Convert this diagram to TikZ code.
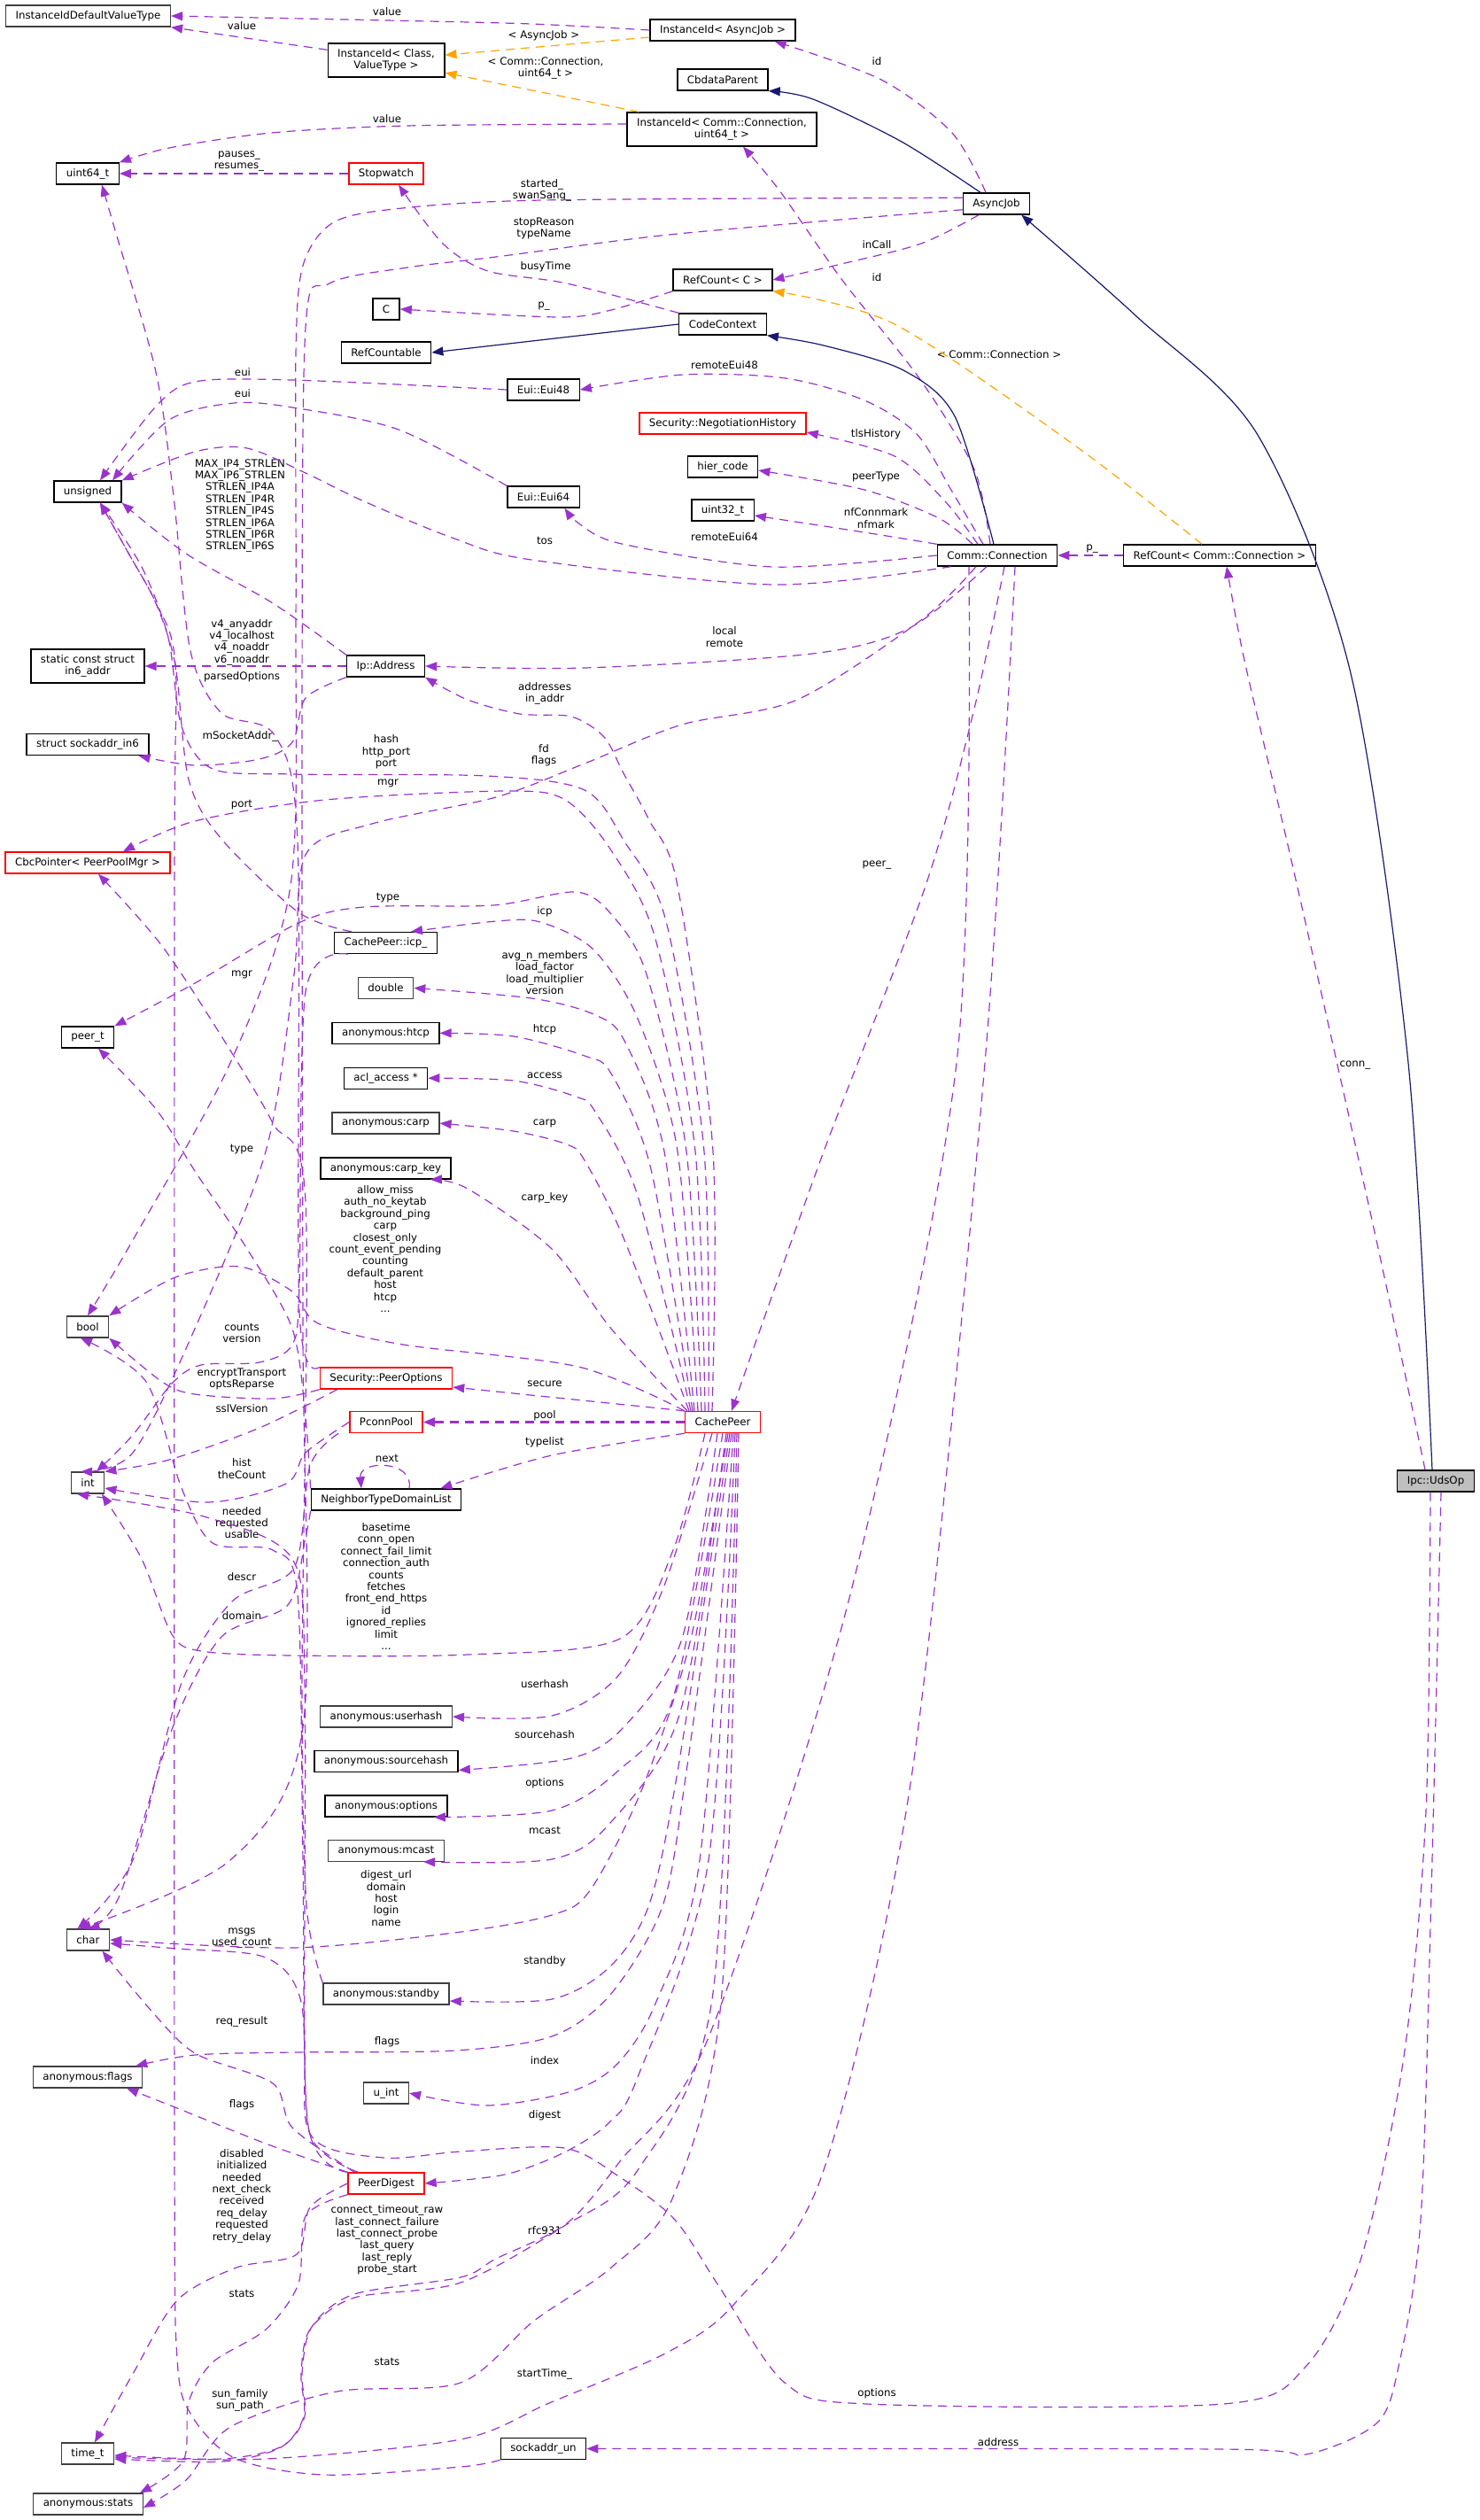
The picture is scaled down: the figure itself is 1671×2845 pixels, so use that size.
\documentclass[tikz,border=0pt]{standalone}
\usepackage{fontspec}
\setmainfont{DejaVu Sans}
\usetikzlibrary{arrows.meta, positioning}
\definecolor{purp}{RGB}{154,50,205}
\definecolor{orng}{RGB}{255,165,0}
\definecolor{navy}{RGB}{25,25,112}
\definecolor{grey40}{RGB}{64,64,64}
\definecolor{grey75}{RGB}{191,191,191}

\begin{document}
\begin{tikzpicture}[x=0.5pt, y=-0.5pt,
    every node/.style={align=center, font=\fontsize{5.9}{6.7}\selectfont},
    cls/.style={draw=black, fill=white, line width=0.7pt, inner xsep=5.5pt,
                inner ysep=1pt, minimum height=12pt},
    gry/.style={cls, draw=grey40},
    bad/.style={cls, draw=red},
    two/.style={minimum height=19pt},
    lbl/.style={inner sep=0pt},
    mem/.style={draw=purp, line width=0.6pt, dash pattern=on 5pt off 3.5pt,
                -{Triangle[length=6.5pt, width=5pt]}},
    tmpl/.style={mem, draw=orng},
    inh/.style={draw=navy, line width=0.6pt, -{Triangle[length=6.5pt, width=5pt]}}
  ]
    \path[use as bounding box, fill=white] (0,0) rectangle (1671,2845);

    \node[gry] (iidvt) at (99.5,18) {InstanceIdDefaultValueType};
    \node[cls] (iiasync) at (816,34) {InstanceId< AsyncJob >};
    \node[cls, two] (iiclass) at (436,68) {InstanceId< Class,\\ ValueType >};
    \node[cls] (cbdata) at (816,90) {CbdataParent};
    \node[cls, two] (iicomm) at (815,146) {InstanceId< Comm::Connection,\\ uint64\_t >};
    \node[cls] (uint64) at (99,196) {uint64\_t};
    \node[bad] (stopw) at (436,196) {Stopwatch};
    \node[cls] (ajob) at (1125,230) {AsyncJob};
    \node[cls] (rcc) at (816,316) {RefCount< C >};
    \node[cls] (cc) at (436,349) {C};
    \node[cls] (cctx) at (816,366) {CodeContext};
    \node[cls] (rcable) at (436,398) {RefCountable};
    \node[cls] (eui48) at (613.5,440) {Eui::Eui48};
    \node[bad] (neg) at (816,478) {Security::NegotiationHistory};
    \node[cls] (hier) at (816,527) {hier\_code};
    \node[cls] (unsgn) at (99,555) {unsigned};
    \node[cls] (eui64) at (613.5,561) {Eui::Eui64};
    \node[cls] (u32) at (816,576) {uint32\_t};
    \node[cls] (conn) at (1126,627) {Comm::Connection};
    \node[cls] (rconn) at (1377,627) {RefCount< Comm::Connection >};
    \node[cls, two] (in6) at (99,752) {static const struct\\ in6\_addr};
    \node[cls] (ipaddr) at (435.5,752) {Ip::Address};
    \node[cls] (sin6) at (99,840.5) {struct sockaddr\_in6};
    \node[bad] (cbcp) at (99,974) {CbcPointer< PeerPoolMgr >};
    \node[cls] (icp) at (435.5,1064.5) {CachePeer::icp\_};
    \node[gry, below=12.75pt of icp] (dbl) {double};
    \node[cls, below=12.75pt of dbl] (htcp) {anonymous:htcp};
    \node[cls, below=12.75pt of htcp] (acl) {acl\_access *};
    \node[gry, below=12.75pt of acl] (carp) {anonymous:carp};
    \node[cls, below=12.75pt of carp] (ckey) {anonymous:carp\_key};
    \node[cls] (peert) at (99,1171) {peer\_t};
    \node[gry] (booln) at (99,1498) {bool};
    \node[bad] (peeropts) at (436,1556) {Security::PeerOptions};
    \node[bad] (pconn) at (436,1605.5) {PconnPool};
    \node[bad] (cpeer) at (816,1605.5) {CachePeer};
    \node[gry] (intn) at (99,1674) {int};
    \node[cls] (ntdl) at (436,1693) {NeighborTypeDomainList};
    \node[cls, fill=grey75] (udsop) at (1621,1672) {Ipc::UdsOp};
    \node[gry] (uhash) at (436,1938) {anonymous:userhash};
    \node[cls, below=12.5pt of uhash] (shash) {anonymous:sourcehash};
    \node[cls, below=12.5pt of shash] (opts) {anonymous:options};
    \node[gry, below=12.5pt of opts] (mcast) {anonymous:mcast};
    \node[gry] (charn) at (99.5,2190) {char};
    \node[gry] (stby) at (436,2251) {anonymous:standby};
    \node[gry] (flagsn) at (99,2345) {anonymous:flags};
    \node[gry] (uint) at (436,2363) {u\_int};
    \node[bad] (pdig) at (436,2465) {PeerDigest};
    \node[gry] (timet) at (99,2770) {time\_t};
    \node[cls] (sockun) at (613.5,2764.5) {sockaddr\_un};
    \node[gry] (stats) at (99.5,2827) {anonymous:stats};

    \node[lbl] (lv1) at (437,13) {value};
    \node[lbl] (lv2) at (273,29) {value};
    \node[lbl] (lasync) at (614,40) {< AsyncJob >};
    \node[lbl] (lcommu) at (616,77) {< Comm::Connection,\\ uint64\_t >};
    \node[lbl] (lid1) at (990,69) {id};
    \node[lbl] (lv3) at (437,134) {value};
    \node[lbl] (lpause) at (270,182) {pauses\_\\ resumes\_};
    \node[lbl] (lstart) at (612,215) {started\_\\ swanSang\_};
    \node[lbl] (lstop) at (614,258) {stopReason\\ typeName};
    \node[lbl] (lbusy) at (616,301) {busyTime};
    \node[lbl] (lincall) at (990,276) {inCall};
    \node[lbl] (lid2) at (990,313) {id};
    \node[lbl] (lp1) at (614,346) {p\_};
    \node[lbl] (lcc) at (1128,400) {< Comm::Connection >};
    \node[lbl] (lre48) at (818,412) {remoteEui48};
    \node[lbl] (leui1) at (274,420) {eui};
    \node[lbl] (leui2) at (274,444) {eui};
    \node[lbl] (ltls) at (989,490) {tlsHistory};
    \node[lbl] (lptype) at (989,538) {peerType};
    \node[lbl] (lnf) at (989,585) {nfConnmark\\ nfmark};
    \node[lbl] (lre64) at (818,606) {remoteEui64};
    \node[lbl] (ltos) at (615,610) {tos};
    \node[lbl] (lmax) at (271,571) {MAX\_IP4\_STRLEN\\ MAX\_IP6\_STRLEN\\ STRLEN\_IP4A\\ STRLEN\_IP4R\\ STRLEN\_IP4S\\ STRLEN\_IP6A\\ STRLEN\_IP6R\\ STRLEN\_IP6S};
    \node[lbl] (lp2) at (1233,620) {p\_};
    \node[lbl] (llocal) at (818,719) {local\\ remote};
    \node[lbl] (lv4) at (273,725) {v4\_anyaddr\\ v4\_localhost\\ v4\_noaddr\\ v6\_noaddr};
    \node[lbl] (lparsed) at (273,764) {parsedOptions};
    \node[lbl] (laddr) at (615,783) {addresses\\ in\_addr};
    \node[lbl] (lmsock) at (271,831) {mSocketAddr\_};
    \node[lbl] (lhash) at (436,849) {hash\\ http\_port\\ port};
    \node[lbl] (lfd) at (614,853) {fd\\ flags};
    \node[lbl] (lmgr1) at (438,884) {mgr};
    \node[lbl] (lport) at (273,909) {port};
    \node[lbl] (lpeer) at (990,977) {peer\_};
    \node[lbl] (ltype1) at (438,1014) {type};
    \node[lbl] (licp) at (615,1029) {icp};
    \node[lbl] (lavg) at (615,1098) {avg\_n\_members\\ load\_factor\\ load\_multiplier\\ version};
    \node[lbl] (lmgr2) at (273,1100) {mgr};
    \node[lbl] (lhtcp) at (615,1162) {htcp};
    \node[lbl] (lacc) at (615,1214) {access};
    \node[lbl] (lcarp) at (615,1268) {carp};
    \node[lbl] (ltype2) at (273,1298) {type};
    \node[lbl] (lckey) at (615,1352) {carp\_key};
    \node[lbl] (lallow) at (435,1410) {allow\_miss\\ auth\_no\_keytab\\ background\_ping\\ carp\\ closest\_only\\ count\_event\_pending\\ counting\\ default\_parent\\ host\\ htcp\\ ...};
    \node[lbl] (lcounts) at (273,1505) {counts\\ version};
    \node[lbl] (lenc) at (273,1557) {encryptTransport\\ optsReparse};
    \node[lbl] (lsecure) at (615,1562) {secure};
    \node[lbl] (lssl) at (273,1590) {sslVersion};
    \node[lbl] (lpool) at (615,1598) {pool};
    \node[lbl] (ltypel) at (615,1628) {typelist};
    \node[lbl] (lnext) at (437,1646) {next};
    \node[lbl] (lhist) at (273,1658) {hist\\ theCount};
    \node[lbl] (lneed) at (273,1719) {needed\\ requested\\ usable};
    \node[lbl] (ldescr) at (273,1780) {descr};
    \node[lbl] (lbase) at (436,1791) {basetime\\ conn\_open\\ connect\_fail\_limit\\ connection\_auth\\ counts\\ fetches\\ front\_end\_https\\ id\\ ignored\_replies\\ limit\\ ...};
    \node[lbl] (ldomain) at (273,1824) {domain};
    \node[lbl] (luser) at (615,1901) {userhash};
    \node[lbl] (lsrc) at (615,1958) {sourcehash};
    \node[lbl] (lopt1) at (615,2013) {options};
    \node[lbl] (lmcast) at (615,2066) {mcast};
    \node[lbl] (ldig) at (436,2143) {digest\_url\\ domain\\ host\\ login\\ name};
    \node[lbl] (lmsgs) at (273,2188) {msgs\\ used\_count};
    \node[lbl] (lstandby) at (615,2214) {standby};
    \node[lbl] (lreq) at (273,2282) {req\_result};
    \node[lbl] (lflags1) at (437,2305) {flags};
    \node[lbl] (lindex) at (615,2326) {index};
    \node[lbl] (lflags2) at (273,2376) {flags};
    \node[lbl] (ldigest) at (615,2388) {digest};
    \node[lbl] (ldis) at (273,2479) {disabled\\ initialized\\ needed\\ next\_check\\ received\\ req\_delay\\ requested\\ retry\_delay};
    \node[lbl] (lctr) at (437,2529) {connect\_timeout\_raw\\ last\_connect\_failure\\ last\_connect\_probe\\ last\_query\\ last\_reply\\ probe\_start};
    \node[lbl] (lrfc) at (615,2518) {rfc931};
    \node[lbl] (lstats1) at (273,2589) {stats};
    \node[lbl] (lstats2) at (437,2666) {stats};
    \node[lbl] (lstartt) at (615,2680) {startTime\_};
    \node[lbl] (loptions) at (990,2702) {options};
    \node[lbl] (lsun) at (271,2710) {sun\_family\\ sun\_path};
    \node[lbl] (laddress) at (1127,2757) {address};
    \node[lbl] (lconnu) at (1530,1203) {conn\_};

    \draw[mem] plot[smooth] coordinates {(iiasync.west) (600,27) (437,23) (iidvt.east)};
    \draw[mem] (iiclass.170) -- (iidvt.south east);
    \draw[tmpl] ([yshift=-4pt]iiasync.west) -- (iiclass.5);
    \draw[tmpl] ([xshift=7pt]iicomm.north west) -- (iiclass.-12);
    \draw[mem] plot[smooth] coordinates {([xshift=-6pt]ajob.north) (1075,150) (995,90) ([xshift=-12pt]iiasync.south east)};
    \draw[inh] plot[smooth] coordinates {([xshift=-9pt]ajob.north) (1018,160) (918,112) (cbdata.south east)};
    \draw[mem] plot[smooth] coordinates {([yshift=3pt]iicomm.west) (459,142) (306,150) (191,167) (uint64.north east)};
    \draw[mem] (stopw.west) -- (uint64.east);
    \draw[mem] plot[smooth] coordinates {(ajob.170) (612,226) (445,236) (375,252) (342,300) (334,400) (334,700) (328,1000) (260,1200) (150,1400) (booln.north)};
    \draw[mem] plot[smooth] coordinates {(ajob.190) (765,264) (560,290) (460,302) (372,320) (345,370) (341,800) (342,1500) (342,1950) (260,2100) ([xshift=-5pt]charn.north)};
    \draw[mem] plot[smooth] coordinates {(cctx.north west) (640,320) (551,306) (500,275) ([xshift=7pt]stopw.south)};
    \draw[mem] plot[smooth] coordinates {([xshift=-10pt]ajob.south) (1040,275) (950,298) (rcc.east)};
    \draw[mem] plot[smooth] coordinates {([xshift=-4pt]conn.north) (1100,530) (1040,430) (950,315) (880,215) ([xshift=12pt]iicomm.south)};
    \draw[mem] plot[smooth] coordinates {(rcc.south west) (690,350) (630,358) (cc.east)};
    \draw[inh] (cctx.west) -- (rcable.east);
    \draw[inh] plot[smooth] coordinates {([xshift=-2pt]conn.north) (1078,470) (1020,418) (930,390) (cctx.south east)};
    \draw[tmpl] plot[smooth] coordinates {([xshift=-10pt]rconn.north) (1215,504) (1010,366) (rcc.south east)};
    \draw[inh] plot[smooth] coordinates {([xshift=-2pt]udsop.north) (1590,1200) (1525,760) (1420,491) (1283,357) ([xshift=-5pt]ajob.south east)};
    \draw[mem] plot[smooth] coordinates {([xshift=-8pt]conn.north) (1075,555) (1035,490) (976,452) (887,427) (771,423) (eui48.east)};
    \draw[mem] plot[smooth] coordinates {([xshift=-11pt]conn.north) (1068,567) (1010,515) ([yshift=-5pt]neg.east)};
    \draw[mem] plot[smooth] coordinates {([xshift=-14pt]conn.north) (1060,585) (976,553) ([yshift=-2pt]hier.east)};
    \draw[mem] plot[smooth] coordinates {(conn.north west) (976,601) ([yshift=-3pt]u32.east)};
    \draw[mem] plot[smooth] coordinates {(conn.west) (873,640) (702,614) (655,592) ([xshift=12pt]eui64.south)};
    \draw[mem] plot[smooth] coordinates {([xshift=8pt]conn.south west) (873,660) (600,632) (513,608) (411,566) (345,534) (279,506) (220,510) (unsgn.north east)};
    \draw[mem] (rconn.west) -- (conn.east);
    \draw[mem] plot[smooth] coordinates {([xshift=-6pt]conn.south) (1027,709) (917,738) (660,754) (ipaddr.east)};
    \draw[mem] (ipaddr.west) -- (in6.east);
    \draw[mem] plot[smooth] coordinates {(eui48.west) (330,429) (220,431) (175,460) ([xshift=7pt]unsgn.north)};
    \draw[mem] plot[smooth] coordinates {(eui64.north west) (450,485) (330,460) (264,455) (191,474) ([xshift=14pt]unsgn.north)};
    \draw[mem] plot[smooth] coordinates {(ipaddr.north west) (308,681) (210,625) (unsgn.south east)};
    \draw[mem] plot[smooth] coordinates {(ipaddr.south west) (345,788) (330,838) (293,857) (220,864) ([xshift=-6pt]sin6.south east)};
    \draw[mem] plot[smooth] coordinates {([xshift=10pt]icp.north west) (337,1030) (249,946) (213,880) (198,751) (176,681) (147,628) ([xshift=7pt]unsgn.south)};
    \draw[mem] plot[smooth] coordinates {(peeropts.north west) (338,1480) (336,950) (310,830) (250,805) (215,735) (196,560) (176,420) (130,260) ([xshift=8pt]uint64.south)};
    \draw[mem] plot[smooth] coordinates {([xshift=-6pt]cpeer.north) (805,1300) (765,1000) (733,926) (704,873) (682,832) (645,809) (587,806) (528,790) (ipaddr.south east)};
    \draw[mem] plot[smooth] coordinates {([xshift=-8pt]cpeer.north) (795,1300) (752,1040) (705,950) (660,892) (550,876) (330,874) (240,868) (205,820) (190,720) (160,640) ([xshift=7pt]unsgn.south)};
    \draw[mem] plot[smooth] coordinates {([xshift=-12pt]conn.south) (1040,700) (900,790) (770,818) (660,862) (560,900) (420,930) (345,965) (332,1100) (300,1300) (220,1500) (150,1640) ([xshift=-4pt]intn.north)};
    \draw[mem] plot[smooth] coordinates {([xshift=-10pt]cpeer.north) (785,1300) (740,1060) (690,960) (638,903) (572,893) (367,903) (220,927) ([xshift=20pt]cbcp.north)};
    \draw[mem] plot[smooth] coordinates {([xshift=4pt]conn.south) (1100,800) (1045,1000) (930,1300) ([xshift=5pt]cpeer.north)};
    \draw[mem] plot[smooth] coordinates {([xshift=-12pt]cpeer.north) (775,1300) (730,1100) (690,1032) (650,1007) (557,1022) (411,1024) (337,1042) (220,1110) (peert.north east)};
    \draw[mem] plot[smooth] coordinates {([xshift=-14pt]cpeer.north) (765,1300) (720,1150) (670,1072) (610,1041) (560,1040) ([xshift=-15pt]icp.north east)};
    \draw[mem] plot[smooth] coordinates {([xshift=-16pt]cpeer.north) (750,1300) (705,1175) (670,1145) (600,1127) (dbl.east)};
    \draw[mem] plot[smooth] coordinates {([xshift=-17pt]cpeer.north) (735,1320) (690,1212) (660,1192) (580,1170) (htcp.east)};
    \draw[mem] plot[smooth] coordinates {([xshift=-18pt]cpeer.north) (720,1350) (672,1255) (650,1238) (580,1220) (acl.east)};
    \draw[mem] plot[smooth] coordinates {([xshift=-19pt]cpeer.north) (705,1400) (660,1310) (640,1292) (580,1277) (carp.east)};
    \draw[mem] plot[smooth] coordinates {([xshift=-20pt]cpeer.north) (690,1500) (623,1410) (528,1342) ([xshift=-12pt]ckey.south east)};
    \draw[mem] plot[smooth] coordinates {(cpeer.north west) (653,1543) (455,1518) (359,1494) (330,1458) (271,1430) (198,1442) (booln.north east)};
    \draw[mem] plot[smooth] coordinates {([xshift=8pt]icp.south west) (345,1120) (338,1450) (330,1518) (293,1538) (227,1541) (194,1562) (150,1620) ([xshift=5pt]intn.north)};
    \draw[mem] plot[smooth] coordinates {(peeropts.south west) (308,1579) (220,1574) (183,1560) (booln.south east)};
    \draw[mem] plot[smooth] coordinates {([xshift=10pt]peeropts.south west) (293,1612) (191,1648) (intn.north east)};
    \draw[mem] (cpeer.north west) -- ([yshift=-5pt]peeropts.east);
    \draw[mem, line width=1.1pt] (cpeer.west) -- (pconn.east);
    \draw[mem] plot[smooth] coordinates {(cpeer.south west) (623,1643) ([xshift=-12pt]ntdl.north east)};
    \draw[mem] ([xshift=13pt]ntdl.north) .. controls (468,1648) and (405,1648) .. ([xshift=-14pt]ntdl.north);
    \draw[mem] plot[smooth] coordinates {(pconn.west) (345,1640) (323,1675) (235,1696) ([yshift=-3pt]intn.east)};
    \draw[mem] plot[smooth] coordinates {(pdig.north west) (348,2400) (342,2100) (336,1800) (308,1750) (240,1742) (205,1680) (165,1560) ([xshift=-4pt]booln.south)};
    \draw[mem] plot[smooth] coordinates {([xshift=-6pt]pconn.south west) (350,1655) (332,1770) (262,1808) (205,1900) (150,2100) ([xshift=-6pt]charn.north)};
    \draw[mem] plot[smooth] coordinates {(ntdl.south west) (345,1735) (325,1812) (250,1848) (195,1950) (135,2140) (charn.north)};
    \draw[mem] plot[smooth] coordinates {([xshift=-10pt]cpeer.south) (760,1750) (700,1850) (528,1868) (330,1869) (227,1864) (194,1845) (160,1760) ([xshift=8pt]intn.south)};
    \draw[mem] plot[smooth] coordinates {([xshift=-6pt]cpeer.south) (750,1790) (697,1893) (623,1937) (uhash.east)};
    \draw[mem] plot[smooth] coordinates {([xshift=-3pt]cpeer.south) (770,1850) (704,1950) (645,1985) ([yshift=-5pt]shash.east)};
    \draw[mem] plot[smooth] coordinates {(cpeer.south) (760,1917) (697,2000) (623,2044) ([xshift=-8pt]opts.south east)};
    \draw[mem] plot[smooth] coordinates {([xshift=2pt]cpeer.south) (768,1933) (689,2058) (623,2099) ([xshift=-12pt]mcast.south east)};
    \draw[mem] plot[smooth] coordinates {([xshift=3pt]cpeer.south) (780,1850) (726,2017) (667,2133) (623,2162) (513,2182) (330,2199) (charn.east)};
    \draw[mem] plot[smooth] coordinates {([xshift=6pt]pdig.north west) (350,2410) (340,2260) (300,2210) (200,2200) ([yshift=-2pt]charn.east)};
    \draw[mem] plot[smooth] coordinates {([xshift=4pt]cpeer.south) (765,2000) (733,2150) (689,2220) (623,2257) ([yshift=-4pt]stby.east)};
    \draw[mem] plot[smooth] coordinates {([xshift=5pt]cpeer.south) (775,2000) (748,2152) (689,2252) (623,2299) (513,2315) (330,2317) (220,2320) ([xshift=-4pt]flagsn.north east)};
    \draw[mem] plot[smooth] coordinates {([xshift=6pt]cpeer.south) (790,2100) (740,2262) (697,2330) (645,2361) (550,2377) (uint.east)};
    \draw[mem] plot[smooth] coordinates {(pdig.north west) (300,2420) (200,2380) ([xshift=-9pt]flagsn.south east)};
    \draw[mem] plot[smooth] coordinates {([xshift=4pt]pdig.north west) (330,2402) (308,2352) (220,2318) (169,2268) ([xshift=8pt]charn.south)};
    \draw[mem] plot[smooth] coordinates {([xshift=7pt]cpeer.south) (800,2100) (720,2345) (687,2397) (637,2430) (570,2455) (pdig.east)};
    \draw[mem] plot[smooth] coordinates {(pdig.west) (350,2492) (335,2545) (267,2560) (200,2597) (150,2680) ([xshift=4pt]timet.north)};
    \draw[mem] plot[smooth] coordinates {(pdig.south west) (345,2502) (337,2578) (300,2630) (240,2667) (213,2712) (207,2778) ([xshift=-2pt]stats.north east)};
    \draw[mem] plot[smooth] coordinates {([xshift=8pt]cpeer.south) (805,2250) (720,2450) (637,2513) (520,2577) (400,2594) (350,2630) (340,2680) (343,2728) (317,2763) (250,2779) ([yshift=-3pt]timet.east)};
    \draw[mem] plot[smooth] coordinates {([xshift=-16pt]conn.south) (1080,1200) (960,1800) (800,2300) (700,2440) (640,2510) (560,2550) (520,2571) (400,2590) (352,2627) (341,2680) (344,2728) (318,2762) (250,2776) ([yshift=-1pt]timet.east)};
    \draw[mem] plot[smooth] coordinates {([xshift=10pt]conn.south) (1112,1200) (1030,2000) (930,2450) (830,2600) (753,2656) (620,2713) (520,2754) (300,2776) ([yshift=-2pt]timet.east)};
    \draw[mem] plot[smooth] coordinates {([xshift=9pt]cpeer.south) (815,2250) (760,2480) (690,2560) (603,2620) (520,2690) (380,2700) (260,2740) (210,2800) ([yshift=-2pt]stats.east)};
    \draw[mem] plot[smooth] coordinates {([xshift=-3pt]udsop.south) (1610,2045) (1585,2322) (1536,2552) (1474,2672) (1381,2714) (979,2714) (886,2690) (811,2580) (762,2506) (700,2458) (637,2425) (520,2429) (433,2436) (352,2412) (344,2300) (344,1900) (330,1760) (230,1712) ([xshift=-6pt]intn.south)};
    \draw[mem] plot[smooth] coordinates {([xshift=3pt]udsop.south) (1616,2137) (1604,2506) (1579,2672) (1554,2736) (1474,2771) (1381,2765) (sockun.east)};
    \draw[mem] plot[smooth] coordinates {([xshift=-6pt]udsop.north) (1554,1400) (1460,980) (1406,750) ([xshift=4pt]rconn.south)};
    \draw[mem] plot[smooth] coordinates {(ntdl.north west) (345,1600) (330,1500) (279,1410) (220,1322) (176,1252) ([xshift=6pt]peert.south)};
    \draw[mem] plot[smooth] coordinates {(stby.north west) (346,2150) (341,1900) (345,1356) (308,1268) (257,1181) (183,1068) ([xshift=6pt]cbcp.south)};
    \draw[mem] plot[smooth] coordinates {(sockun.south west) (520,2785) (367,2794) (267,2776) (217,2728) (200,2662) (197,2400) (197,1000) (198,751) (176,681) (147,628) ([xshift=7pt]unsgn.south)};
\end{tikzpicture}
\end{document}
